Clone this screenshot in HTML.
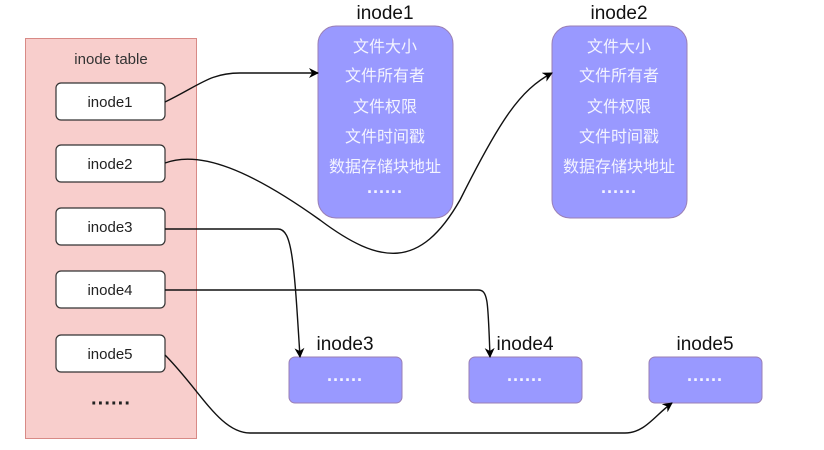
<!DOCTYPE html>
<html><head><meta charset="utf-8"><style>
html,body{margin:0;padding:0;background:#fff;}
svg text{font-family:"Liberation Sans","Noto Sans CJK SC",sans-serif;}
</style></head><body>
<svg width="824" height="445" viewBox="0 0 824 445" xmlns="http://www.w3.org/2000/svg">
<defs><marker id="a" markerWidth="10" markerHeight="10" refX="9" refY="5" orient="auto" markerUnits="userSpaceOnUse"><path d="M0,0 L10,5 L0,10 L3,5 Z" fill="#000"/></marker></defs>
<rect x="25.5" y="38.5" width="171" height="400" fill="#f8cecc" stroke="#d88a86"/>
<text x="111" y="64" font-size="15" text-anchor="middle" fill="#333">inode table</text>
<g fill="#fff" stroke="#333" stroke-width="1.2">
<rect x="56" y="83" width="109" height="37" rx="5"/>
<rect x="56" y="145" width="109" height="37" rx="5"/>
<rect x="56" y="208" width="109" height="37" rx="5"/>
<rect x="56" y="271" width="109" height="37" rx="5"/>
<rect x="56" y="335" width="109" height="37" rx="5"/>
</g>
<g font-size="15" text-anchor="middle" fill="#222">
<text x="110" y="107">inode1</text><text x="110" y="169">inode2</text><text x="110" y="232">inode3</text><text x="110" y="295">inode4</text><text x="110" y="359">inode5</text>
</g>
<text x="111" y="410" font-size="20" font-weight="bold" text-anchor="middle" fill="#222">······</text>
<g fill="#9999ff" stroke="#9a7fb5">
<rect x="318" y="26" width="135" height="192" rx="18"/>
<rect x="552" y="26" width="135" height="192" rx="18"/>
<rect x="289" y="357" width="113" height="46" rx="6"/>
<rect x="469" y="357" width="113" height="46" rx="6"/>
<rect x="649" y="357" width="113" height="46" rx="6"/>
</g>
<g font-size="19" text-anchor="middle" fill="#111">
<text x="385" y="19">inode1</text><text x="619" y="19">inode2</text>
<text x="345" y="350">inode3</text><text x="525" y="350">inode4</text><text x="705" y="350">inode5</text>
</g>
<g font-size="16" text-anchor="middle" fill="#f4f4ff">
<text x="385" y="52">文件大小</text><text x="385" y="81">文件所有者</text><text x="385" y="112">文件权限</text><text x="385" y="142">文件时间戳</text><text x="385" y="172">数据存储块地址</text>
<text x="619" y="52">文件大小</text><text x="619" y="81">文件所有者</text><text x="619" y="112">文件权限</text><text x="619" y="142">文件时间戳</text><text x="619" y="172">数据存储块地址</text>
</g>
<g font-size="18" font-weight="bold" text-anchor="middle" fill="#f4f4ff">
<text x="385" y="198">······</text><text x="619" y="198">······</text>
<text x="345" y="386">······</text><text x="525" y="386">······</text><text x="705" y="386">······</text>
</g>
<g fill="none" stroke="#111" stroke-width="1.4" marker-end="url(#a)">
<path d="M165,102 C200,85 210,73 240,73 L318,73"/>
<path d="M165,163 C200,150 250,170 320,220 C380,265 420,270 460,200 C500,120 520,90 552,73"/>
<path d="M165,229 L278,229 C292,229 294,260 300,357"/>
<path d="M165,290 L478,290 C488,290 488,300 490,357"/>
<path d="M165,355 C200,390 220,433 250,433 L625,433 C645,433 655,415 672,403"/>
</g>
</svg>
</body></html>
